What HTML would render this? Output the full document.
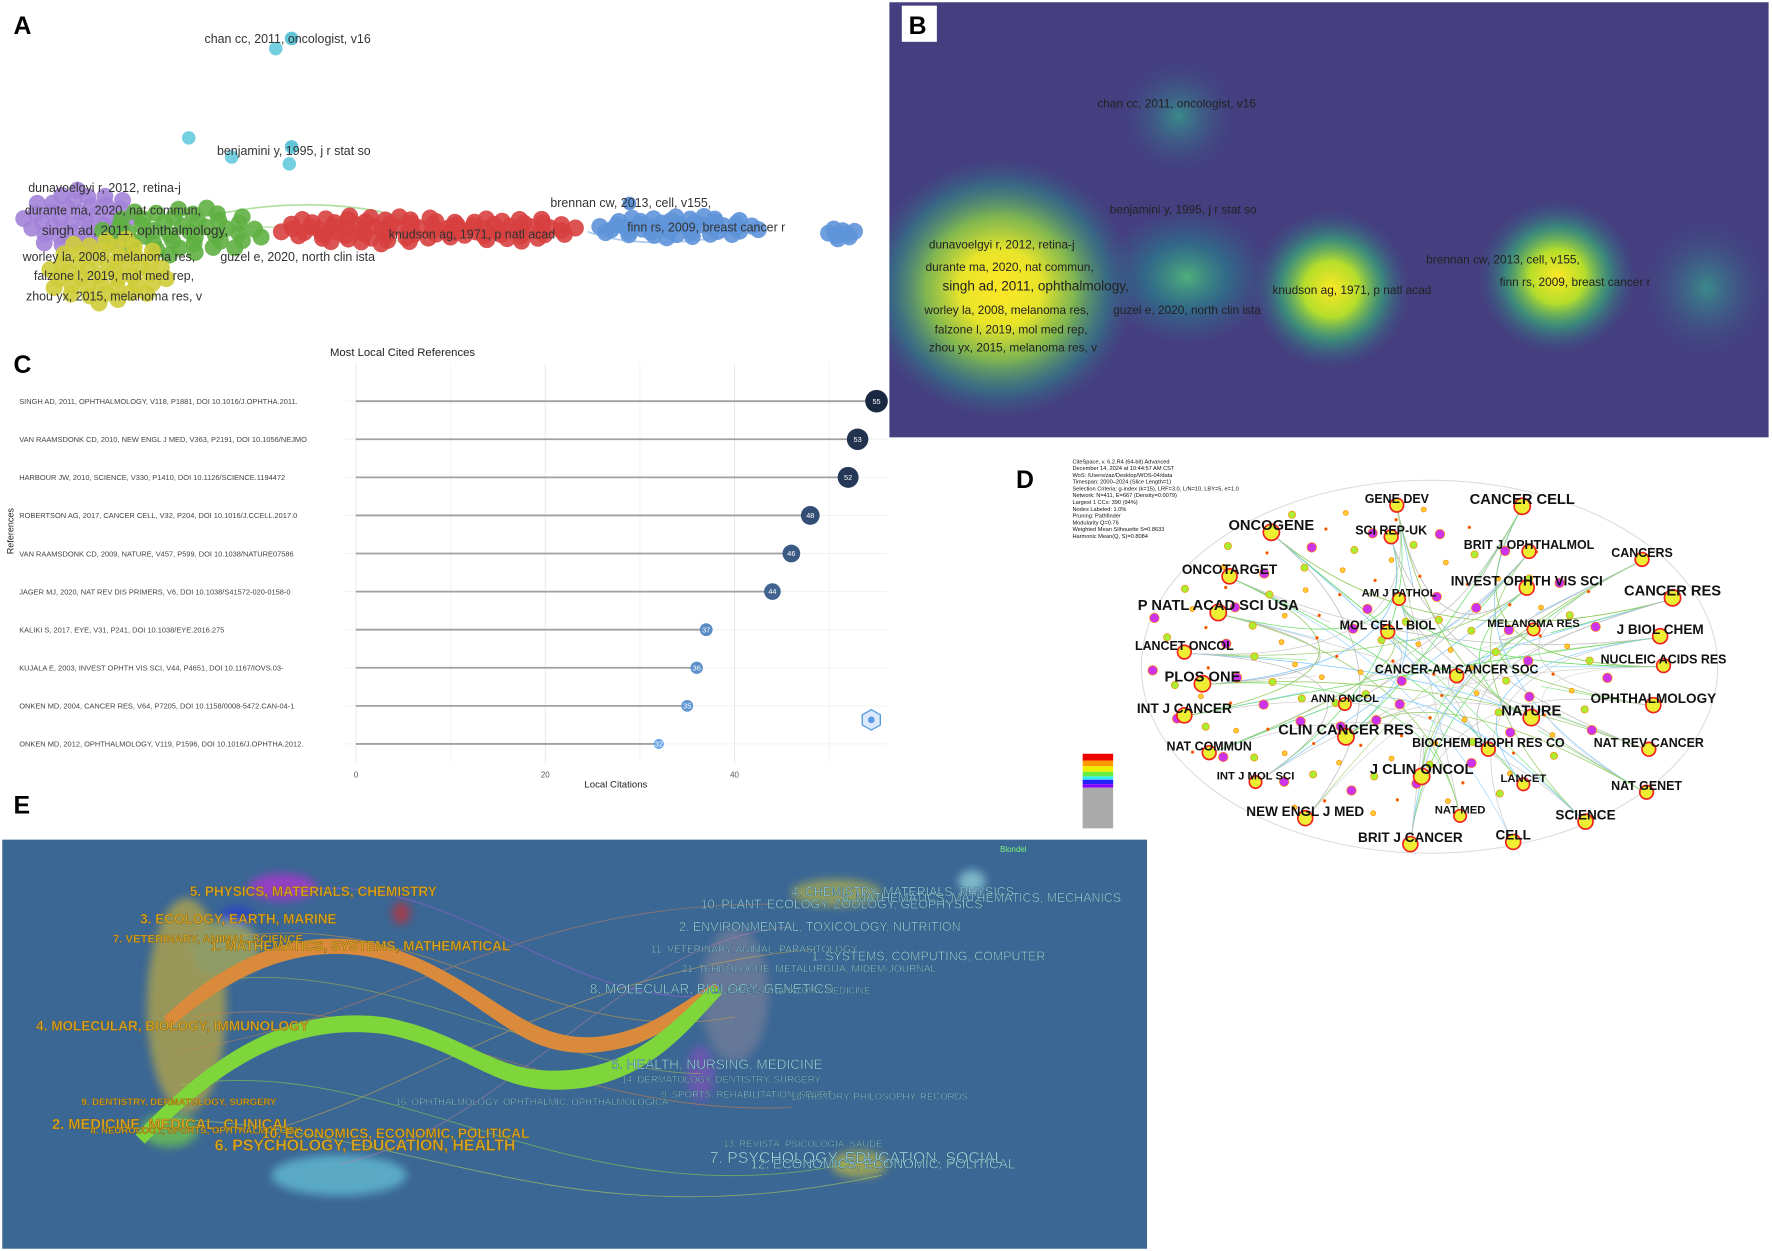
<!DOCTYPE html>
<html><head><meta charset="utf-8"><style>
html,body{margin:0;padding:0;background:#fff;}
svg{display:block;font-family:"Liberation Sans",sans-serif;}
</style></head><body>
<svg id="fig" width="1772" height="1251" viewBox="0 0 1568 1107" preserveAspectRatio="none">
<defs>
<radialGradient id="hotY" cx="50%" cy="50%" r="50%"><stop offset="0" stop-color="#fde725"/><stop offset="0.35" stop-color="#b5de2b"/><stop offset="0.65" stop-color="#35b779" stop-opacity="0.6"/><stop offset="1" stop-color="#31688e" stop-opacity="0"/></radialGradient>
<radialGradient id="hotBig" cx="50%" cy="50%" r="50%"><stop offset="0" stop-color="#fde725"/><stop offset="0.3" stop-color="#e8e42a"/><stop offset="0.55" stop-color="#8fd444" stop-opacity="0.8"/><stop offset="0.8" stop-color="#2a9a8a" stop-opacity="0.45"/><stop offset="1" stop-color="#31688e" stop-opacity="0"/></radialGradient>
<radialGradient id="hotG" cx="50%" cy="50%" r="50%"><stop offset="0" stop-color="#4fb07a"/><stop offset="0.5" stop-color="#26828e" stop-opacity="0.6"/><stop offset="1" stop-color="#31688e" stop-opacity="0"/></radialGradient>
<radialGradient id="hotT" cx="50%" cy="50%" r="50%"><stop offset="0" stop-color="#3a8a8a"/><stop offset="1" stop-color="#3b528b" stop-opacity="0"/></radialGradient>
<clipPath id="clipB"><rect x="787" y="2" width="778" height="385"/></clipPath>
<filter id="blur3"><feGaussianBlur stdDeviation="4"/></filter>
</defs>

<g>
<text x="12" y="30" font-size="22" font-weight="bold">A</text>
<g id="aNodes"></g>
<g font-size="11" fill="#333">
<text x="181" y="38">chan cc, 2011, oncologist, v16</text>
<text x="192" y="137">benjamini y, 1995, j r stat so</text>
<text x="25" y="170">dunavoelgyi r, 2012, retina-j</text>
<text x="22" y="190">durante ma, 2020, nat commun,</text>
<text x="37" y="208" font-size="12">singh ad, 2011, ophthalmology,</text>
<text x="20" y="231">worley la, 2008, melanoma res,</text>
<text x="30" y="248">falzone l, 2019, mol med rep,</text>
<text x="23" y="266">zhou yx, 2015, melanoma res, v</text>
<text x="195" y="231">guzel e, 2020, north clin ista</text>
<text x="344" y="211">knudson ag, 1971, p natl acad</text>
<text x="487" y="183">brennan cw, 2013, cell, v155,</text>
<text x="555" y="205">finn rs, 2009, breast cancer r</text>
</g>
</g>

<g>
<rect x="787" y="2" width="778" height="385" fill="#453f80"/>
<g clip-path="url(#clipB)">
<ellipse cx="1043" cy="103" rx="50" ry="50" fill="url(#hotT)"/>
<ellipse cx="885" cy="255" rx="120" ry="115" fill="url(#hotBig)"/>
<ellipse cx="1050" cy="245" rx="75" ry="60" fill="url(#hotG)"/>
<ellipse cx="1178" cy="256" rx="70" ry="70" fill="url(#hotY)"/>
<ellipse cx="1378" cy="245" rx="70" ry="68" fill="url(#hotY)"/>
<ellipse cx="1510" cy="255" rx="55" ry="60" fill="url(#hotT)"/>
</g>
<rect x="798" y="5" width="31" height="32" fill="#fff"/>
<text x="804" y="30" font-size="22" font-weight="bold">B</text>
<g font-size="10.5" fill="#222">
<text x="971" y="95">chan cc, 2011, oncologist, v16</text>
<text x="982" y="189">benjamini y, 1995, j r stat so</text>
<text x="822" y="220">dunavoelgyi r, 2012, retina-j</text>
<text x="819" y="240">durante ma, 2020, nat commun,</text>
<text x="834" y="257" font-size="12">singh ad, 2011, ophthalmology,</text>
<text x="818" y="278">worley la, 2008, melanoma res,</text>
<text x="827" y="295">falzone l, 2019, mol med rep,</text>
<text x="822" y="311">zhou yx, 2015, melanoma res, v</text>
<text x="985" y="278">guzel e, 2020, north clin ista</text>
<text x="1126" y="260">knudson ag, 1971, p natl acad</text>
<text x="1262" y="233">brennan cw, 2013, cell, v155,</text>
<text x="1327" y="253">finn rs, 2009, breast cancer r</text>
</g>
</g>

<g>
<text x="12" y="330" font-size="22" font-weight="bold">C</text>
<text x="292" y="315" font-size="10" fill="#222">Most Local Cited References</text>
<text transform="translate(12,470) rotate(-90)" text-anchor="middle" font-size="8" fill="#222">References</text>
<text x="545" y="697" text-anchor="middle" font-size="8.5" fill="#222">Local Citations</text>
<g id="cChart"></g>
<g transform="translate(771,637)">
<polygon points="0,-9 8,-4.5 8,4.5 0,9 -8,4.5 -8,-4.5" fill="#dbe9fb" stroke="#5a9be6" stroke-width="1.2"/>
<circle r="3" fill="#5a9be6"/>
</g>
</g>

<g>
<text x="899" y="432" font-size="22" font-weight="bold">D</text>
<g font-size="5" fill="#111">
<text x="949" y="410">CiteSpace, v. 6.2.R4 (64-bit) Advanced</text>
<text x="949" y="416">December 14, 2024 at 10:44:57 AM CST</text>
<text x="949" y="422">WoS: /Users/zaz/Desktop/WOS-04/data</text>
<text x="949" y="428">Timespan: 2000–2024 (Slice Length=1)</text>
<text x="949" y="434">Selection Criteria: g-index (k=15), LRF=3.0, L/N=10, LBY=5, e=1.0</text>
<text x="949" y="440">Network: N=411, E=667 (Density=0.0079)</text>
<text x="949" y="446">Largest 1 CCs: 390 (94%)</text>
<text x="949" y="452">Nodes Labeled: 1.0%</text>
<text x="949" y="458">Pruning: Pathfinder</text>
<text x="949" y="464">Modularity Q=0.76</text>
<text x="949" y="470">Weighted Mean Silhouette S=0.8633</text>
<text x="949" y="476">Harmonic Mean(Q, S)=0.8084</text>
</g>
<ellipse cx="1265" cy="590" rx="255" ry="165" fill="none" stroke="#ddd" stroke-width="1"/>
<g id="dNet"></g>
<g>
<rect x="958" y="667" width="27" height="6" fill="#e00"/><rect x="958" y="673" width="27" height="5" fill="#f90"/>
<rect x="958" y="678" width="27" height="5" fill="#ee0"/><rect x="958" y="683" width="27" height="4" fill="#6e4"/>
<rect x="958" y="687" width="27" height="3" fill="#3ee"/><rect x="958" y="690" width="27" height="4" fill="#22f"/>
<rect x="958" y="694" width="27" height="3" fill="#80f"/>
<rect x="958" y="697" width="27" height="36" fill="#aaa"/>
</g>
<g id="dLabels" font-weight="bold" fill="#111" text-anchor="middle"></g>
</g>

<g>
<text x="12" y="720" font-size="22" font-weight="bold">E</text>
<rect x="2" y="743" width="1013" height="362" fill="#3b6795"/>
<g filter="url(#blur3)" opacity="0.6">
<ellipse cx="165" cy="890" rx="35" ry="95" fill="#d8b830"/>
<ellipse cx="150" cy="1000" rx="25" ry="15" fill="#7ee23a"/>
<ellipse cx="250" cy="785" rx="30" ry="12" fill="#d025e0"/>
<ellipse cx="210" cy="810" rx="15" ry="8" fill="#2030e0"/>
<ellipse cx="355" cy="808" rx="8" ry="10" fill="#e02020"/>
<ellipse cx="300" cy="1040" rx="60" ry="18" fill="#6fd8e8"/>
<ellipse cx="200" cy="840" rx="30" ry="25" fill="#c8c048"/>
<ellipse cx="650" cy="880" rx="30" ry="60" fill="#c8a0a0" opacity="0.5"/>
<ellipse cx="740" cy="790" rx="40" ry="12" fill="#c8c040"/>
<ellipse cx="860" cy="780" rx="12" ry="10" fill="#aee"/>
<ellipse cx="760" cy="1030" rx="25" ry="12" fill="#d8c830"/>
<ellipse cx="620" cy="950" rx="12" ry="25" fill="#c040e0" opacity="0.6"/>
</g>
<g fill="none" stroke-width="0.8" opacity="0.55">
<path d="M250,790 C400,760 500,900 640,880" stroke="#b060e0"/>
<path d="M200,830 C380,800 480,930 650,900" stroke="#e0a030"/>
<path d="M170,900 C350,870 500,990 700,980" stroke="#e08040"/>
<path d="M160,960 C350,930 500,1080 750,1030" stroke="#90e040"/>
<path d="M150,990 C380,1000 500,1100 780,1040" stroke="#c0e050"/>
<path d="M300,1030 C450,1000 550,830 700,820" stroke="#c080a0"/>
<path d="M240,1000 C380,960 500,860 720,840" stroke="#e0b040"/>
<path d="M180,870 C320,840 500,950 620,950" stroke="#b0c040"/>
<path d="M160,930 C350,900 450,800 680,800" stroke="#d08050"/>
</g>
<path d="M150,910 C230,840 300,830 370,860 C450,900 470,950 560,925 C600,910 620,890 640,878 L632,870 C600,890 580,905 555,912 C480,935 450,885 375,850 C300,815 225,825 145,900 Z" fill="#d98a3a"/>
<path d="M128,1012 C200,940 260,905 340,915 C420,930 440,975 520,962 C580,950 610,910 640,878 L630,872 C600,900 570,935 518,945 C440,958 420,915 340,900 C255,890 190,930 120,1004 Z" fill="#7fd63a"/>
<text x="885" y="754" font-size="7" fill="#7cf27c">Blondel</text>
<g font-weight="bold" fill="#d8a623" stroke="#6a5010" stroke-width="0.3">
<text x="168" y="793" font-size="12">5. PHYSICS, MATERIALS, CHEMISTRY</text>
<text x="124" y="817" font-size="12">3. ECOLOGY, EARTH, MARINE</text>
<text x="100" y="834" font-size="10">7. VETERINARY, ANIMAL, SCIENCE</text>
<text x="186" y="841" font-size="12">1. MATHEMATICS, SYSTEMS, MATHEMATICAL</text>
<text x="32" y="912" font-size="12">4. MOLECULAR, BIOLOGY, IMMUNOLOGY</text>
<text x="72" y="978" font-size="8.5">9. DENTISTRY, DERMATOLOGY, SURGERY</text>
<text x="46" y="999" font-size="13">2. MEDICINE, MEDICAL, CLINICAL</text>
<text x="80" y="1003" font-size="8.5">8. NEUROLOGY, SPORTS, OPHTHALMOLOGY</text>
<text x="232" y="1007" font-size="12">10. ECONOMICS, ECONOMIC, POLITICAL</text>
<text x="190" y="1018" font-size="14">6. PSYCHOLOGY, EDUCATION, HEALTH</text>
</g>
<g fill="#9ad8e4" stroke="#2a4a60" stroke-width="0.3">
<text x="700" y="793" font-size="11">4. CHEMISTRY, MATERIALS, PHYSICS</text>
<text x="745" y="798" font-size="11">6. MATHEMATICS, MATHEMATICS, MECHANICS</text>
<text x="620" y="804" font-size="11">10. PLANT, ECOLOGY, ZOOLOGY, GEOPHYSICS</text>
<text x="601" y="824" font-size="11">2. ENVIRONMENTAL, TOXICOLOGY, NUTRITION</text>
<text x="576" y="843" font-size="9">11. VETERINARY, ANIMAL, PARASITOLOGY</text>
<text x="718" y="850" font-size="11">1. SYSTEMS, COMPUTING, COMPUTER</text>
<text x="603" y="860" font-size="9">21. TEHNOLOGIJE, METALURGIJA, MIDEM-JOURNAL</text>
<text x="522" y="879" font-size="12">8. MOLECULAR, BIOLOGY, GENETICS</text>
<text x="630" y="879" font-size="8">13. FORENSIC, ANATOMY, MEDICINE</text>
<text x="541" y="946" font-size="12">5. HEALTH, NURSING, MEDICINE</text>
<text x="550" y="958" font-size="8.5">14. DERMATOLOGY, DENTISTRY, SURGERY</text>
<text x="585" y="971" font-size="8.5">9. SPORTS, REHABILITATION, SPORT</text>
<text x="700" y="973" font-size="8.5">18. HISTORY, PHILOSOPHY, RECORDS</text>
<text x="350" y="978" font-size="8.5">16. OPHTHALMOLOGY, OPHTHALMIC, OPHTHALMOLOGICA</text>
<text x="640" y="1015" font-size="8.5">13. REVISTA, PSICOLOGIA, SAUDE</text>
<text x="628" y="1029" font-size="14">7. PSYCHOLOGY, EDUCATION, SOCIAL</text>
<text x="664" y="1034" font-size="12">12. ECONOMICS, ECONOMIC, POLITICAL</text>
</g>
</g>
</svg>

<script>
const refs = [
"SINGH AD, 2011, OPHTHALMOLOGY, V118, P1881, DOI 10.1016/J.OPHTHA.2011.",
"VAN RAAMSDONK CD, 2010, NEW ENGL J MED, V363, P2191, DOI 10.1056/NEJMO",
"HARBOUR JW, 2010, SCIENCE, V330, P1410, DOI 10.1126/SCIENCE.1194472",
"ROBERTSON AG, 2017, CANCER CELL, V32, P204, DOI 10.1016/J.CCELL.2017.0",
"VAN RAAMSDONK CD, 2009, NATURE, V457, P599, DOI 10.1038/NATURE07586",
"JAGER MJ, 2020, NAT REV DIS PRIMERS, V6, DOI 10.1038/S41572-020-0158-0",
"KALIKI S, 2017, EYE, V31, P241, DOI 10.1038/EYE.2016.275",
"KUJALA E, 2003, INVEST OPHTH VIS SCI, V44, P4651, DOI 10.1167/IOVS.03-",
"ONKEN MD, 2004, CANCER RES, V64, P7205, DOI 10.1158/0008-5472.CAN-04-1",
"ONKEN MD, 2012, OPHTHALMOLOGY, V119, P1596, DOI 10.1016/J.OPHTHA.2012."];
const citations = [55,53,52,48,46,44,37,36,35,32];
const xTicks = [0,20,40];

const NS="http://www.w3.org/2000/svg";
function mk(tag,attrs,parent){const e=document.createElementNS(NS,tag);for(const k in attrs)e.setAttribute(k,attrs[k]);parent.appendChild(e);return e;}
const cx0=315, cx1=785, cy0=355, cStep=33.7;
const xS=v=>cx0+v*(650-315)/40;
const yS=i=>cy0+i*cStep;
const cg=document.getElementById('cChart');
for(let v=0;v<=55;v+=10){mk('line',{x1:xS(v),x2:xS(v),y1:322,y2:675,stroke:v%20===0?'#e6e6e6':'#f2f2f2','stroke-width':0.8},cg);}
xTicks.forEach(t=>{const tx=mk('text',{x:xS(t),y:688,'font-size':7,fill:'#555','text-anchor':'middle'},cg);tx.textContent=t;

});
const vmin=Math.min(...citations), vmax=Math.max(...citations);
function col(v){const t=(v-vmin)/(vmax-vmin);const a=[106,166,232],b=[27,40,66];return 'rgb('+a.map((c,i)=>Math.round(c+(b[i]-c)*t)).join(',')+')';}
refs.forEach((r,i)=>{const y=yS(i);
 mk('line',{x1:305,x2:cx1,y1:y,y2:y,stroke:'#f0f0f0','stroke-width':0.8},cg);
 const lab=mk('text',{x:17,y:y+2.5,'font-size':6.6,fill:'#444'},cg);lab.textContent=r;
 
 
 const ln=mk('line',{x1:xS(0),x2:xS(citations[i]),y1:y,y2:y,stroke:'#a0a0a0','stroke-width':1.6},cg);
 
 
 const rr=4.5+(citations[i]-vmin)/(vmax-vmin)*5.5;
 const c=mk('circle',{cx:xS(citations[i]),cy:y,r:rr,fill:col(citations[i])},cg);
 
 
 const vt=mk('text',{x:xS(citations[i]),y:y+2.3,'font-size':6.5,fill:'#fff','text-anchor':'middle'},cg);vt.textContent=citations[i];
 
 
});

const ag=document.getElementById('aNodes');
const aLinks=[['M190,190 C260,175 330,180 380,200','#8fd27a'],['M140,210 C200,195 300,200 360,215','#a8dd90'],['M520,205 C560,220 620,215 660,205','#8ab3e8']];
aLinks.forEach(l=>mk('path',{d:l[0],fill:'none',stroke:l[1],'stroke-width':1.5,opacity:0.7},ag));
const clusters=[[70,195,50,28,'#a383d8',40],[160,205,75,22,'#5fb043',45],[95,240,55,30,'#cfcc3a',45],[330,203,85,13,'#d7403f',55],[450,203,60,11,'#d7403f',35],[600,201,75,10,'#5e93d9',45],[745,207,16,5,'#5e93d9',8]];
clusters.forEach(c=>{for(let k=0;k<c[5];k++){const a=k*2.399, r=Math.sqrt((k+0.5)/c[5]);
 mk('circle',{cx:c[0]+Math.cos(a)*r*c[2],cy:c[1]+Math.sin(a)*r*c[3],r:7.5,fill:c[4],opacity:0.9},ag);}});
[[258,34,'#60c6d8'],[244,43,'#74cfe0'],[167,122,'#74cfe0'],[205,139,'#74cfe0'],[256,145,'#74cfe0'],[258,130,'#60c6d8'],[557,180,'#5e93d9']].forEach(p=>mk('circle',{cx:p[0],cy:p[1],r:6,fill:p[2]},ag));

const dLab=[["GENE DEV",1236,445,11],["CANCER CELL",1347,446,13],["ONCOGENE",1125,469,13],["SCI REP-UK",1231,473,11],["BRIT J OPHTHALMOL",1353,486,11],["CANCERS",1453,493,11],["ONCOTARGET",1088,508,12],["INVEST OPHTH VIS SCI",1351,518,12],["AM J PATHOL",1238,528,10],["CANCER RES",1480,527,13],["P NATL ACAD SCI USA",1078,540,13],["MOL CELL BIOL",1228,557,11],["MELANOMA RES",1357,555,10],["J BIOL CHEM",1469,561,12],["LANCET ONCOL",1048,575,11],["NUCLEIC ACIDS RES",1472,587,11],["CANCER-AM CANCER SOC",1289,596,11],["PLOS ONE",1064,603,13],["ANN ONCOL",1190,621,10],["OPHTHALMOLOGY",1463,622,12],["INT J CANCER",1048,631,12],["NATURE",1355,633,13],["CLIN CANCER RES",1191,650,13],["BIOCHEM BIOPH RES CO",1317,661,11],["NAT REV CANCER",1459,661,11],["NAT COMMUN",1070,664,11],["J CLIN ONCOL",1258,685,13],["LANCET",1348,692,10],["INT J MOL SCI",1111,690,10],["NAT GENET",1457,699,11],["NEW ENGL J MED",1155,722,12],["NAT MED",1292,720,10],["SCIENCE",1403,725,12],["BRIT J CANCER",1248,745,12],["CELL",1339,743,12]];
const dn=document.getElementById('dNet');
const lc=['#ccc','#bbb','#e77','#9c6','#a8f','#8cf','#fb6','#ccc','#aaa','#6d6'];
for(let i=0;i<dLab.length;i++){for(let j=i+1;j<dLab.length;j+=4){const a=dLab[i],b=dLab[(j*7+i)%dLab.length];
 mk('path',{d:'M'+a[1]+','+(a[2]+3)+' Q1265,590 '+b[1]+','+(b[2]+3),fill:'none',stroke:lc[(i+j)%lc.length],'stroke-width':0.6,opacity:0.8},dn);}}
for(let k=0;k<140;k++){const a=k*2.399,r=Math.sqrt((k+0.5)/140);
 mk('circle',{cx:1220+Math.cos(a)*r*210,cy:585+Math.sin(a)*r*140,r:1.2+(k%4),fill:['#e33','#fc3','#ae3','#c3e'][k%4],stroke:'#f80','stroke-width':0.6},dn);}
const dl=document.getElementById('dLabels');
dLab.forEach(d=>{mk('circle',{cx:d[1],cy:d[2]+2,r:d[3]*0.55,fill:'#ee3',stroke:'#e22','stroke-width':1.5},dn);
 const t=mk('text',{x:d[1],y:d[2],'font-size':d[3]},dl);t.textContent=d[0];
 
 });
</script>
</body></html>
